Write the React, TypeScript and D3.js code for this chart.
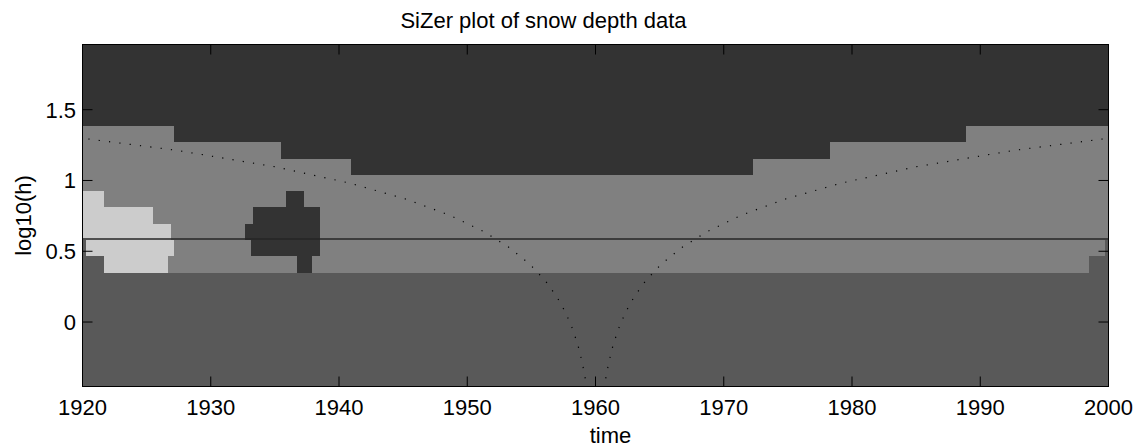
import React from "react";
import * as d3 from "d3";

// ---- chart data -------------------------------------------------------
const title = "SiZer plot of snow depth data";
const xLabel = "time";
const yLabel = "log10(h)";

const xDomain: [number, number] = [1920, 2000];
const xTicks = [1920, 1930, 1940, 1950, 1960, 1970, 1980, 1990, 2000];
const xTickLabels = ["1920", "1930", "1940", "1950", "1960", "1970", "1980", "1990", "2000"];
const yTicks = [0, 0.5, 1, 1.5];
const yTickLabels = ["0", "0.5", "1", "1.5"];

// bandwidth grid (years), log-spaced, one map row per value
const hMin = 0.4;
const hMax = 80;
const hCount = 21;
// centre of the time range, used for the 2h guide curves
const centerYear = 1960;
// highlighted bandwidth
const highlightLog10h = 0.587;

// SiZer classes per row: [row, fromYear, toYear]; other cells are "not significant"
const sparseRuns: [number, number, number][] = [
  [0, 1920, 2000], [1, 1920, 2000], [2, 1920, 2000], [3, 1920, 2000],
  [4, 1920, 2000], [5, 1920, 2000], [6, 1920, 2000],
  [7, 1920, 1921.7], [7, 1998.5, 2000],
  [8, 1920, 1920.3], [8, 1999.7, 2000],
];
const decreasingRuns: [number, number, number][] = [
  [7, 1936.7, 1937.9],
  [8, 1933.1, 1938.5],
  [9, 1932.7, 1938.5],
  [10, 1933.3, 1938.5],
  [11, 1935.9, 1937.3],
  [13, 1940.9, 1972.3],
  [14, 1935.5, 1978.3],
  [15, 1927.1, 1988.9],
  [16, 1920, 2000], [17, 1920, 2000], [18, 1920, 2000], [19, 1920, 2000], [20, 1920, 2000],
];
const increasingRuns: [number, number, number][] = [
  [7, 1921.7, 1926.7],
  [8, 1920.3, 1927.1],
  [9, 1920, 1926.9],
  [10, 1920, 1925.5],
  [11, 1920, 1921.7],
];

const classColors = {
  flat: "#808080",
  decreasing: "#333333",
  increasing: "#cccccc",
  sparse: "#595959",
};

// ---- layout ------------------------------------------------------------
const W = 1140;
const H = 448;
const plot = { left: 82.5, right: 1108.5, top: 44.5, bottom: 386.5 };
const FONT = "'Liberation Sans', Arial, Helvetica, sans-serif";
const FS = 22;
const TICK = 10;

export default function App() {
  const logMin = Math.log10(hMin);
  const logMax = Math.log10(hMax);
  const step = (logMax - logMin) / (hCount - 1);
  const hGrid = d3.range(hCount).map((i) => Math.pow(10, logMin + i * step));

  const x = d3.scaleLinear().domain(xDomain).range([plot.left, plot.right]);
  const y = d3
    .scaleLinear()
    .domain([logMin - step / 2, logMax + step / 2])
    .range([plot.bottom, plot.top]);

  const rowTop = (r: number) => y(logMin + r * step + step / 2);
  const rowBottom = (r: number) => y(logMin + r * step - step / 2);

  const cell = (
    key: string,
    r: number,
    a: number,
    b: number,
    fill: string
  ) => (
    <rect
      key={key}
      x={x(a)}
      y={rowTop(r)}
      width={x(b) - x(a)}
      height={rowBottom(r) - rowTop(r)}
      fill={fill}
      shapeRendering="crispEdges"
    />
  );

  const line = d3
    .line<[number, number]>()
    .x((d) => x(d[0]))
    .y((d) => y(d[1]));
  const leftGuide = hGrid.map((h) => [centerYear - 2 * h, Math.log10(h)] as [number, number]);
  const rightGuide = hGrid.map((h) => [centerYear + 2 * h, Math.log10(h)] as [number, number]);

  return (
    <svg
      width={W}
      height={H}
      style={{ position: "absolute", left: 0, top: 0, display: "block", background: "#fff" }}
      fontFamily={FONT}
    >
      <defs>
        <clipPath id="plotClip">
          <rect x={plot.left} y={plot.top} width={plot.right - plot.left} height={plot.bottom - plot.top} />
        </clipPath>
      </defs>

      {/* base: not significant */}
      {d3.range(hCount).map((r) => cell(`f${r}`, r, xDomain[0], xDomain[1], classColors.flat))}
      {sparseRuns.map(([r, a, b], i) => cell(`s${i}`, r, a, b, classColors.sparse))}
      {decreasingRuns.map(([r, a, b], i) => cell(`d${i}`, r, a, b, classColors.decreasing))}
      {increasingRuns.map(([r, a, b], i) => cell(`i${i}`, r, a, b, classColors.increasing))}

      <g clipPath="url(#plotClip)">
        <line
          x1={plot.left}
          x2={plot.right}
          y1={y(highlightLog10h)}
          y2={y(highlightLog10h)}
          stroke="#262626"
          strokeWidth={1.5}
        />
        {[leftGuide, rightGuide].map((g, i) => (
          <path
            key={i}
            d={line(g) || ""}
            fill="none"
            stroke="#000"
            strokeWidth={1.2}
            strokeDasharray="1.2 9.2"
          />
        ))}
      </g>

      {/* axes box and inward ticks */}
      <rect
        x={plot.left}
        y={plot.top}
        width={plot.right - plot.left}
        height={plot.bottom - plot.top}
        fill="none"
        stroke="#000"
        strokeWidth={1}
      />
      {xTicks.map((t) => (
        <g key={`xt${t}`} stroke="#000" strokeWidth={1}>
          <line x1={x(t)} x2={x(t)} y1={plot.bottom} y2={plot.bottom - TICK} />
          <line x1={x(t)} x2={x(t)} y1={plot.top} y2={plot.top + TICK} />
        </g>
      ))}
      {yTicks.map((t) => (
        <g key={`yt${t}`} stroke="#000" strokeWidth={1}>
          <line x1={plot.left} x2={plot.left + TICK} y1={y(t)} y2={y(t)} />
          <line x1={plot.right} x2={plot.right - TICK} y1={y(t)} y2={y(t)} />
        </g>
      ))}

      {xTicks.map((t, i) => (
        <text key={`xl${t}`} x={x(t)} y={415} fontSize={FS} textAnchor="middle" fill="#000">
          {xTickLabels[i]}
        </text>
      ))}
      {yTicks.map((t, i) => (
        <text key={`yl${t}`} x={76} y={y(t) + 8} fontSize={FS} textAnchor="end" fill="#000">
          {yTickLabels[i]}
        </text>
      ))}

      <text x={543.5} y={28} fontSize={FS} textAnchor="middle" fill="#000">
        {title}
      </text>
      <text x={610.5} y={443} fontSize={FS} textAnchor="middle" fill="#000">
        {xLabel}
      </text>
      <text
        transform={`translate(31, ${(plot.top + plot.bottom) / 2}) rotate(-90)`}
        fontSize={FS}
        textAnchor="middle"
        fill="#000"
      >
        {yLabel}
      </text>
    </svg>
  );
}
